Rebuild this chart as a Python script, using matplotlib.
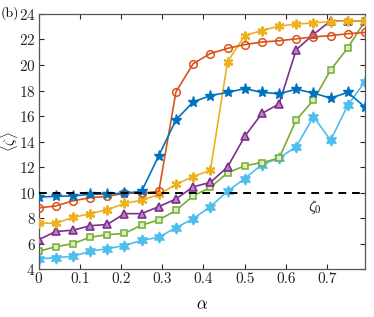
import numpy as np
import matplotlib
matplotlib.use("Agg")
import matplotlib.pyplot as plt

# data alpha dan <zeta> untuk tiap seri
alpha = [0, 0.0417, 0.0833, 0.125, 0.1667, 0.2083, 0.25, 0.2917, 0.3333, 0.375,
         0.4167, 0.4583, 0.5, 0.5417, 0.5833, 0.625, 0.6667, 0.7083, 0.75, 0.7917]

blue = [9.65, 9.7, 9.75, 9.85, 9.9, 9.95, 10.1, 12.9, 15.7, 17.1,
        17.6, 17.85, 18.15, 17.85, 17.75, 18.1, 17.8, 17.4, 17.85, 16.7]
orange = [8.8, 8.95, 9.35, 9.6, 9.7, 9.95, 9.95, 10.1, 17.9, 20.1,
          20.9, 21.3, 21.6, 21.8, 21.9, 22.05, 22.2, 22.3, 22.45, 22.55]
yellow = [7.6, 7.6, 8.05, 8.35, 8.65, 9.15, 9.4, 9.85, 10.65, 11.25,
          11.75, 20.25, 22.3, 22.7, 23.05, 23.2, 23.3, 23.4, 23.45, 23.45]
purple = [6.3, 6.95, 7.05, 7.4, 7.5, 8.35, 8.35, 8.9, 9.5, 10.45,
          10.8, 12.0, 14.4, 16.2, 16.95, 21.2, 22.4, 23.45, 23.45, 23.45]
green = [5.4, 5.75, 6.0, 6.5, 6.7, 6.8, 7.45, 7.85, 8.6, 9.75,
         10.4, 11.55, 12.1, 12.35, 12.7, 15.7, 17.25, 19.6, 21.35, 23.45]
cyan = [4.8, 4.9, 5.0, 5.4, 5.6, 5.85, 6.25, 6.5, 7.25, 7.95,
        8.9, 10.1, 11.1, 12.2, 12.7, 13.6, 15.95, 14.1, 16.85, 18.7]

zeta0 = 10

plt.rcParams['font.family'] = 'cmr10'
plt.rcParams['mathtext.fontset'] = 'cm'
plt.rcParams['axes.formatter.use_mathtext'] = True

fig = plt.figure(figsize=(3.74, 3.17), dpi=100)
ax = fig.add_axes([0.103, 0.151, 0.873, 0.805])

lw = 1.2
ax.plot(alpha, blue, color='#0072BD', lw=lw, marker='*', ms=8, zorder=6)
ax.plot(alpha, orange, color='#D95319', lw=lw, marker='o', ms=5.5, mfc='none', mew=1.1, zorder=5)
ax.plot(alpha, yellow, color='#EDB120', lw=lw, marker=(6, 2, 0), ms=7, mew=1.6, zorder=4)
ax.plot(alpha, purple, color='#7E2F8E', lw=lw, marker='^', ms=5.5, mfc='#B784C2', mew=1.2, zorder=3)
ax.plot(alpha, green, color='#77AC30', lw=lw, marker='s', ms=4.5, mfc='#DDEBC8', mew=1.1, zorder=2)
ax.plot(alpha, cyan, color='#4DBEEE', lw=lw, marker=(6, 1, 0), ms=8, mfc='#4DBEEE', zorder=1)

ax.axhline(zeta0, color='black', lw=1.4, ls=(0, (4, 3)), zorder=7)
ax.text(0.67, 8.9, r'$\zeta_0$', fontsize=11, ha='center', va='center')

ax.set_xlim(0, 0.7917)
ax.set_ylim(4, 24)
ax.set_xticks([0, 0.1, 0.2, 0.3, 0.4, 0.5, 0.6, 0.7])
ax.set_xticklabels(['0', '0.1', '0.2', '0.3', '0.4', '0.5', '0.6', '0.7'])
ax.set_yticks(np.arange(4, 25, 2))
ax.tick_params(direction='in', top=True, right=True, length=3.5, width=0.8,
               labelsize=11, colors='#262626', pad=2)
for s in ax.spines.values():
    s.set_color('#555555')
    s.set_linewidth(0.9)

ax.set_xlabel(r'$\alpha$', fontsize=12, labelpad=8)
# label sumbu y ditulis manual supaya tidak terpotong di tepi
fig.text(0.024, 0.553, r'$\langle\zeta\rangle$', fontsize=10.5, rotation=90,
         ha='center', va='center')
fig.text(0.003, 0.958, '(b)', fontsize=10, va='center')

fig.savefig('out.png', dpi=100)
